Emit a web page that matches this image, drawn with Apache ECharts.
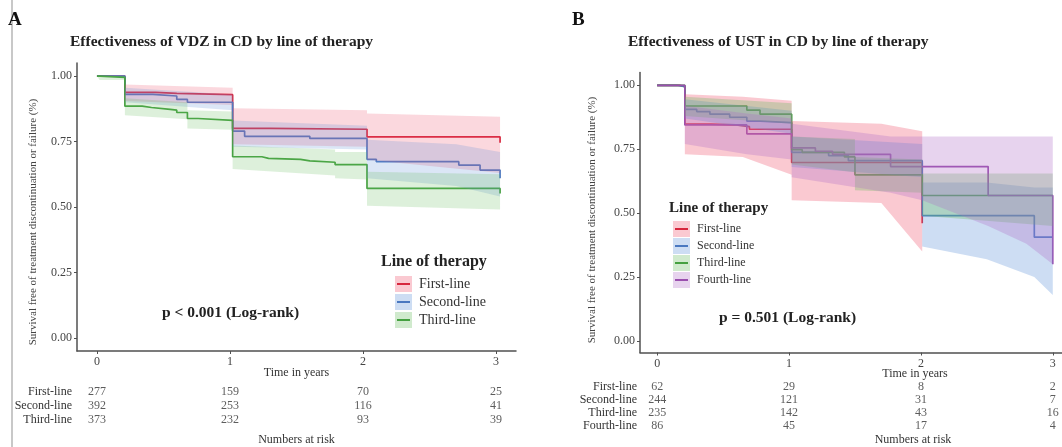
<!DOCTYPE html>
<html>
<head>
<meta charset="utf-8">
<script src="https://cdn.jsdelivr.net/npm/echarts@6/dist/echarts.min.js"></script>
<style>
  html, body { margin: 0; padding: 0; background: #fff; }
  #chart { width: 1062px; height: 447px; }
</style>
</head>
<body>
<div id="chart"></div>
<script>
var FONT = '"Liberation Serif", "DejaVu Serif", serif';

var namesA = ['First-line', 'Second-line', 'Third-line'];
var namesB = ['First-line', 'Second-line', 'Third-line', 'Fourth-line'];
var timeTicks = [0, 1, 2, 3];
var survTicks = [0, 0.25, 0.5, 0.75, 1];

// Panel A (VDZ) - KM steps [years, survival]
var vdzFirst = [[0, 1], [0.21, 0.938], [0.44, 0.934], [0.6, 0.929], [1.02, 0.8], [1.3, 0.797], [2.03, 0.768], [3.03, 0.745]];
var vdzSecond = [[0, 1], [0.21, 0.93], [0.42, 0.924], [0.6, 0.911], [0.68, 0.9], [1.02, 0.79], [1.11, 0.77], [1.6, 0.762],
                 [2.03, 0.682], [2.1, 0.673], [2.72, 0.66], [2.88, 0.641], [3.03, 0.61]];
var vdzThird = [[0, 1], [0.02, 0.995], [0.21, 0.885], [0.34, 0.88], [0.41, 0.873], [0.55, 0.87], [0.6, 0.861], [0.68, 0.838],
                [0.76, 0.831], [1.02, 0.692], [1.24, 0.686], [1.29, 0.682], [1.53, 0.676], [1.6, 0.671], [1.79, 0.662],
                [2.03, 0.571], [3.03, 0.552]];
// confidence bands [years, lower, upper]
var vdzFirstBand = [[0, 1, 1], [0.21, 1, 1], [0.21, 0.905, 0.968], [1.02, 0.89, 0.955], [1.02, 0.74, 0.877],
                    [2.03, 0.73, 0.87], [2.03, 0.68, 0.857], [3.03, 0.63, 0.845]];
var vdzSecondBand = [[0, 1, 1], [0.21, 1, 1], [0.21, 0.9, 0.955], [1.02, 0.87, 0.93], [1.02, 0.73, 0.83],
                     [2.03, 0.72, 0.81], [2.03, 0.61, 0.757], [2.7, 0.58, 0.74], [3.03, 0.54, 0.71]];
var vdzThirdBand = [[0, 1, 1], [0.02, 0.985, 1], [0.21, 0.985, 1], [0.21, 0.85, 0.915], [0.68, 0.835, 0.9],
                    [0.68, 0.8, 0.87], [1.02, 0.795, 0.865], [1.02, 0.645, 0.735], [1.79, 0.62, 0.72],
                    [1.79, 0.61, 0.71], [2.03, 0.605, 0.71], [2.03, 0.505, 0.635], [3.03, 0.49, 0.625]];
var vdzRisk = [[277, 159, 70, 25], [392, 253, 116, 41], [373, 232, 93, 39]];

// Panel B (UST)
var ustFirst = [[0, 1], [0.17, 0.995], [0.21, 0.848], [0.41, 0.845], [0.6, 0.838], [0.7, 0.828], [1.02, 0.698], [2.01, 0.46]];
var ustSecond = [[0, 1], [0.15, 0.995], [0.21, 0.906], [0.3, 0.897], [0.4, 0.887], [0.55, 0.875], [0.68, 0.86],
                 [0.78, 0.854], [1.02, 0.738], [1.3, 0.725], [1.45, 0.705], [2.01, 0.49], [2.86, 0.406], [3.0, 0.406]];
var ustThird = [[0, 1], [0.21, 0.919], [0.68, 0.903], [0.78, 0.887], [1.02, 0.748], [1.1, 0.738], [1.42, 0.72],
                [1.5, 0.65], [2.01, 0.569], [3.0, 0.569]];
var ustFourth = [[0, 1], [0.21, 0.845], [0.68, 0.81], [1.02, 0.755], [1.2, 0.742], [1.33, 0.73], [1.77, 0.682],
                 [2.51, 0.569], [3.0, 0.3]];
var ustFirstBand = [[0, 1, 1], [0.21, 1, 1], [0.21, 0.73, 0.965], [0.65, 0.72, 0.955], [1.02, 0.65, 0.94],
                    [1.02, 0.55, 0.86], [1.7, 0.54, 0.85], [2.01, 0.35, 0.82]];
var ustSecondBand = [[0, 1, 1], [0.21, 1, 1], [0.21, 0.87, 0.945], [1.02, 0.81, 0.9], [1.02, 0.68, 0.8],
                     [2.01, 0.64, 0.77], [2.01, 0.37, 0.62], [2.5, 0.32, 0.62], [2.86, 0.25, 0.6], [3.0, 0.18, 0.6]];
var ustThirdBand = [[0, 1, 1], [0.21, 1, 1], [0.21, 0.88, 0.955], [1.02, 0.85, 0.93], [1.02, 0.69, 0.8],
                    [1.5, 0.66, 0.79], [1.5, 0.59, 0.72], [2.01, 0.58, 0.71], [2.01, 0.49, 0.655], [3.0, 0.45, 0.655]];
var ustFourthBand = [[0, 1, 1], [0.21, 1, 1], [0.21, 0.77, 0.92], [0.68, 0.73, 0.89], [1.02, 0.71, 0.87],
                     [1.02, 0.64, 0.85], [1.77, 0.58, 0.8], [2.01, 0.55, 0.8], [2.51, 0.45, 0.8], [2.8, 0.38, 0.8], [3.0, 0.3, 0.8]];
var ustRisk = [[62, 29, 8, 2], [244, 121, 31, 7], [235, 142, 43, 16], [86, 45, 17, 4]];

var lineColors = ['#d7263d', '#4a78c0', '#45a040', '#9a4fae'];
var bandColors = ['#ee4d68', '#5b8ed8', '#63bb5a', '#b06cc6'];

function kmSeries(name, data, idx, axis) {
    return {
        name: name, type: 'line', step: 'end', data: data,
        xAxisIndex: axis, yAxisIndex: axis,
        showSymbol: false, symbol: 'none', z: 2,
        lineStyle: { color: lineColors[idx], width: 1.7 },
        itemStyle: { color: lineColors[idx] }
    };
}

function bandSeries(name, band, idx, axis, alpha) {
    return {
        name: name + ' CI', type: 'custom', data: band,
        xAxisIndex: axis, yAxisIndex: axis, z: 3, silent: true,
        encode: { x: 0, y: [1, 2] },
        renderItem: function (params, api) {
            if (params.dataIndex !== 0) return null;
            var up = band.map(function (d) { return api.coord([d[0], d[2]]); });
            var lo = band.map(function (d) { return api.coord([d[0], d[1]]); }).reverse();
            return {
                type: 'polygon',
                shape: { points: up.concat(lo) },
                style: { fill: bandColors[idx], opacity: alpha }
            };
        }
    };
}

function riskSeries(rows, counts, axis) {
    var data = [];
    rows.forEach(function (r, i) {
        timeTicks.forEach(function (t, j) { data.push([t, r, counts[i][j]]); });
    });
    return {
        type: 'scatter', data: data, xAxisIndex: axis, yAxisIndex: axis,
        symbolSize: 1, itemStyle: { color: 'rgba(0,0,0,0)' }, silent: true,
        label: {
            show: true, position: 'inside', formatter: function (p) { return p.value[2]; },
            fontFamily: FONT, fontSize: 12, color: '#333'
        }
    };
}

function plotX(grid, min, max, gap, shift) {
    return {
        type: 'value', gridIndex: grid, min: min, max: max,
        axisLine: { show: true, onZero: false, lineStyle: { color: '#505050', width: 1.5 } },
        axisTick: { show: true, customValues: timeTicks, length: 3, lineStyle: { color: '#505050' } },
        axisLabel: { customValues: timeTicks, fontFamily: FONT, fontSize: 12, color: '#444', margin: 5 },
        splitLine: { show: false },
        name: 'Time in years', nameLocation: 'middle', nameGap: gap, nameMoveOverlap: false,
        nameTextStyle: { fontFamily: FONT, fontSize: 12, color: '#333', padding: [0, 0, 0, shift] }
    };
}
function plotY(grid, min, max) {
    return {
        type: 'value', gridIndex: grid, min: min, max: max,
        axisLine: { show: true, onZero: false, lineStyle: { color: '#505050', width: 1.5 } },
        axisTick: { show: true, customValues: survTicks, length: 3, lineStyle: { color: '#505050' } },
        axisLabel: {
            customValues: survTicks, formatter: function (v) { return v.toFixed(2); },
            fontFamily: FONT, fontSize: 12, color: '#444', margin: 5
        },
        splitLine: { show: false }
    };
}
function riskX(grid, min, max, gap, shift) {
    return {
        type: 'value', gridIndex: grid, min: min, max: max,
        axisLine: { show: false }, axisTick: { show: false }, axisLabel: { show: false }, splitLine: { show: false },
        name: 'Numbers at risk', nameLocation: 'middle', nameGap: gap, nameMoveOverlap: false,
        nameTextStyle: { fontFamily: FONT, fontSize: 12, color: '#333', padding: [0, 0, 0, shift] }
    };
}
function riskY(grid, rows, margin) {
    return {
        type: 'category', gridIndex: grid, data: rows, inverse: true,
        axisLine: { show: false }, axisTick: { show: false }, splitLine: { show: false },
        axisLabel: { interval: 0, fontFamily: FONT, fontSize: 12, color: '#333', margin: margin }
    };
}

function legendGraphic(x, y, names, titleSize, textSize, pitch, keyDx, textDx) {
    var els = [{
        type: 'text', x: x, y: y,
        style: { text: 'Line of therapy', font: 'bold ' + titleSize + 'px ' + FONT, fill: '#222', textVerticalAlign: 'middle' }
    }];
    names.forEach(function (n, i) {
        var cy = y + pitch + 4 + i * pitch;
        els.push({ type: 'rect', shape: { x: x + keyDx, y: cy - 8, width: 17, height: 16 },
                   style: { fill: bandColors[i], opacity: 0.3 } });
        els.push({ type: 'line', shape: { x1: x + keyDx + 2, y1: cy, x2: x + keyDx + 15, y2: cy },
                   style: { stroke: lineColors[i], lineWidth: 2 } });
        els.push({ type: 'text', x: x + textDx, y: cy,
                   style: { text: n, font: textSize + 'px ' + FONT, fill: '#333', textVerticalAlign: 'middle' } });
    });
    return els;
}

var chart = echarts.init(document.getElementById('chart'));

var series = [];
[vdzFirst, vdzSecond, vdzThird].forEach(function (d, i) { series.push(kmSeries(namesA[i], d, i, 0)); });
[vdzFirstBand, vdzSecondBand, vdzThirdBand].forEach(function (d, i) { series.push(bandSeries(namesA[i], d, i, 0, 0.22)); });
series.push(riskSeries(namesA, vdzRisk, 1));
[ustFirst, ustSecond, ustThird, ustFourth].forEach(function (d, i) { series.push(kmSeries(namesB[i], d, i, 2)); });
[ustFirstBand, ustSecondBand, ustThirdBand, ustFourthBand].forEach(function (d, i) { series.push(bandSeries(namesB[i], d, i, 2, 0.3)); });
series.push(riskSeries(namesB, ustRisk, 3));

var titleStyle = { fontFamily: FONT, fontSize: 15.5, fontWeight: 'bold', color: '#222' };
var letterStyle = { fontFamily: FONT, fontSize: 19, fontWeight: 'bold', color: '#111' };

var graphics = [
    { type: 'line', shape: { x1: 12, y1: 0, x2: 12, y2: 447 }, style: { stroke: '#c8c8c8', lineWidth: 2 } },
    { type: 'text', x: 33, y: 222, rotation: Math.PI / 2,
      style: { text: 'Survival free of treatment discontinuation or failure (%)', font: '11px ' + FONT,
               fill: '#444', textAlign: 'center', textVerticalAlign: 'middle' } },
    { type: 'text', x: 592, y: 220, rotation: Math.PI / 2,
      style: { text: 'Survival free of treatment discontinuation or failure (%)', font: '11px ' + FONT,
               fill: '#444', textAlign: 'center', textVerticalAlign: 'middle' } },
    { type: 'text', x: 162, y: 313,
      style: { text: 'p < 0.001 (Log-rank)', font: 'bold 15.5px ' + FONT, fill: '#222', textVerticalAlign: 'middle' } },
    { type: 'text', x: 719, y: 318,
      style: { text: 'p = 0.501 (Log-rank)', font: 'bold 15.5px ' + FONT, fill: '#222', textVerticalAlign: 'middle' } }
].concat(legendGraphic(381, 262, namesA, 16, 14, 18, 14, 38))
 .concat(legendGraphic(669, 208, namesB, 15, 12, 17, 4, 28));

var option = {
    animation: false,
    backgroundColor: '#fff',
    textStyle: { fontFamily: FONT },
    title: [
        { text: 'A', left: 8, top: 11, padding: 0, textStyle: letterStyle },
        { text: 'Effectiveness of VDZ in CD by line of therapy', left: 70, top: 34, padding: 0, textStyle: titleStyle },
        { text: 'B', left: 572, top: 11, padding: 0, textStyle: letterStyle },
        { text: 'Effectiveness of UST in CD by line of therapy', left: 628, top: 34, padding: 0, textStyle: titleStyle }
    ],
    grid: [
        { left: 77, top: 63, width: 439, height: 288 },
        { left: 77, top: 384.5, width: 439, height: 45 },
        { left: 640, top: 72.5, width: 422, height: 280 },
        { left: 640, top: 380.5, width: 422, height: 55 }
    ],
    xAxis: [plotX(0, -0.15, 3.15, 16, 0), riskX(1, -0.15, 3.15, 7.5, 0),
            plotX(2, -0.13, 3.07, 15.5, 128), riskX(3, -0.13, 3.07, 2, 124)],
    yAxis: [plotY(0, -0.05, 1.05), riskY(1, namesA, 5), plotY(2, -0.045, 1.05), riskY(3, namesB, 3)],
    graphic: graphics,
    series: series
};

chart.setOption(option);
</script>
</body>
</html>
